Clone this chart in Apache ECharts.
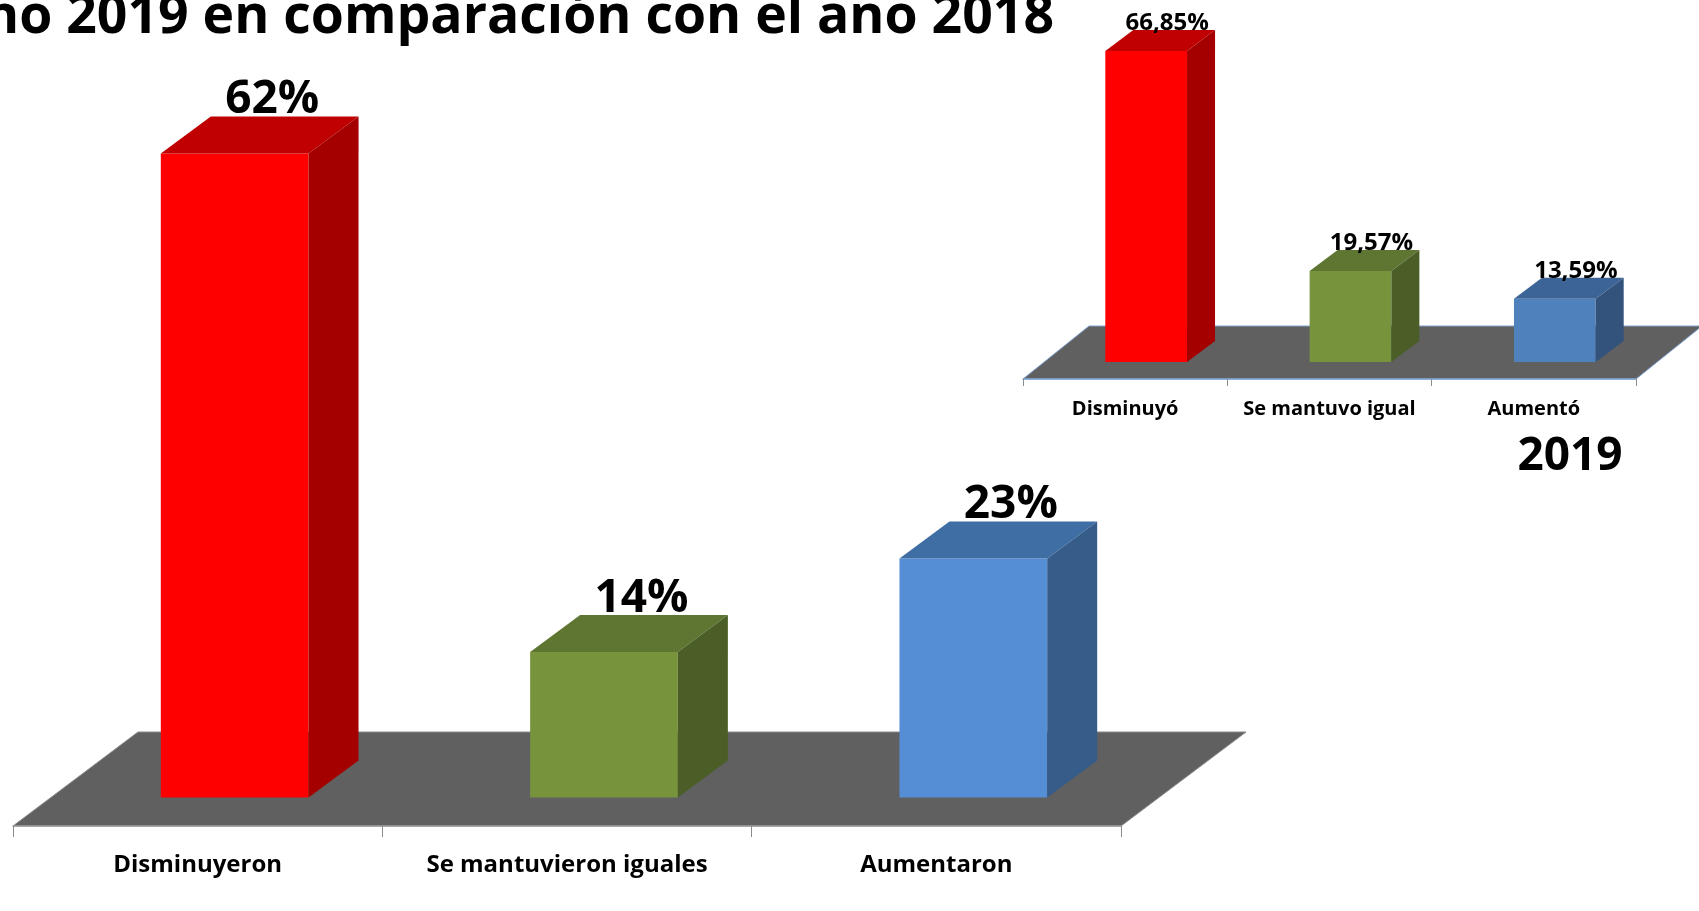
<!DOCTYPE html>
<html>
<head>
<meta charset="utf-8">
<title>Comparación 2019 / 2018</title>
<script src="https://cdn.jsdelivr.net/npm/echarts@6/dist/echarts.min.js"></script>
<style>
  html, body { margin: 0; padding: 0; background: #fff; }
  #chart { width: 1699px; height: 911px; }
</style>
</head>
<body>
<div id="chart"></div>
<script>
// datos
var categoriasComp = ['Disminuyeron', 'Se mantuvieron iguales', 'Aumentaron'];
var valoresComp = [62, 14, 23];
var categorias2019 = ['Disminuyó', 'Se mantuvo igual', 'Aumentó'];
var valores2019 = [66.85, 19.57, 13.59];
var tituloTexto = 'año 2019 en comparación con el año 2018';
var anioTexto = '2019';

// colores de las caras (frente, arriba, lado)
var frenteComp = ['#ff0000', '#77933c', '#558ed5'];
var arribaComp = ['#c00000', '#5f7632', '#3f6ea4'];
var ladoComp = ['#a40000', '#4b5e28', '#365c8a'];
var frente2019 = ['#ff0000', '#77933c', '#4f81bd'];
var arriba2019 = ['#c00000', '#5f7632', '#3d6497'];
var lado2019 = ['#a40000', '#4b5e28', '#33537d'];

var FONT = '"Open Sans", "Noto Sans", sans-serif';

function pctComp(v) { return Math.round(v) + '%'; }
function pct2019(v) { return v.toFixed(2).replace('.', ',') + '%'; }

function barras3d(depth, frente, arriba, lado, fontSize, labelDy, fmt) {
  return function (params, api) {
    var i = api.value(0);
    var v = api.value(1);
    var top = api.coord([i, v]);
    var base = api.coord([i, 0]);
    var w = api.size([1, 0])[0] * 0.4;
    var x0 = top[0] - w / 2, x1 = top[0] + w / 2;
    var yt = top[1], yb = base[1];
    var dx = depth[0], dy = depth[1];
    var backY = yt + dy;
    return {
      type: 'group',
      children: [
        { type: 'rect', shape: { x: x0, y: yt, width: w, height: yb - yt },
          style: { fill: frente[i] } },
        { type: 'polygon', shape: { points: [[x0, yt], [x0 + dx, backY], [x1 + dx, backY], [x1, yt]] },
          style: { fill: arriba[i] } },
        { type: 'polygon', shape: { points: [[x1, yt], [x1 + dx, backY], [x1 + dx, yb + dy], [x1, yb]] },
          style: { fill: lado[i] } },
        { type: 'text', x: top[0] + dx * 0.75, y: backY + labelDy - 0.357 * fontSize,
          style: { text: fmt(v), font: 'bold ' + fontSize + 'px ' + FONT, fill: '#000',
            align: 'center', verticalAlign: 'middle', textAlign: 'center', textVerticalAlign: 'middle' } }
      ]
    };
  };
}

function piso(depth, borde) {
  return function (params, api) {
    var cs = params.coordSys;
    var yf = cs.y + cs.height;
    return {
      type: 'polygon',
      shape: { points: [[cs.x, yf], [cs.x + cs.width, yf],
        [cs.x + cs.width + depth[0], yf + depth[1]], [cs.x + depth[0], yf + depth[1]]] },
      style: { fill: '#606060', stroke: borde, lineWidth: 1 }
    };
  };
}

function ejeX(grid, cats, fontSize, margin, tick, color) {
  return {
    gridIndex: grid, type: 'category', data: cats, z: 5,
    axisLine: { show: true, lineStyle: { color: color, width: 1.5 } },
    axisTick: { show: true, length: tick, lineStyle: { color: '#8c8c8c' } },
    axisLabel: { interval: 0, margin: margin, color: '#000', fontWeight: 'bold',
      fontFamily: FONT, fontSize: fontSize },
    splitLine: { show: false }
  };
}

var chart = echarts.init(document.getElementById('chart'));

var option = {
  animation: false,
  backgroundColor: '#fff',
  graphic: [
    { type: 'text', x: 1054, y: 18, scaleX: 1.01,
      style: { text: tituloTexto, font: 'bold 53px ' + FONT, fill: '#000',
        align: 'right', verticalAlign: 'middle', textAlign: 'right', textVerticalAlign: 'middle' } },
    { type: 'text', x: 1570, y: 457,
      style: { text: anioTexto, font: 'bold 46px ' + FONT, fill: '#000',
        align: 'center', verticalAlign: 'middle', textAlign: 'center', textVerticalAlign: 'middle' } }
  ],
  grid: [
    { left: 50, top: 18.5, width: 1108, height: 779 },
    { left: 13, top: 726, width: 1108, height: 100 },
    { left: 1044, top: 13, width: 613, height: 349 },
    { left: 1023, top: 279, width: 613, height: 100 }
  ],
  xAxis: [
    { gridIndex: 0, type: 'category', data: categoriasComp, show: false },
    ejeX(1, categoriasComp, 24, 27, 11, '#9a9a9a'),
    { gridIndex: 2, type: 'category', data: categorias2019, show: false },
    ejeX(3, categorias2019, 20, 20, 7, '#7fa2cf')
  ],
  yAxis: [
    { gridIndex: 0, type: 'value', min: 0, max: 75, show: false },
    { gridIndex: 1, type: 'value', min: 0, max: 1, show: false },
    { gridIndex: 2, type: 'value', min: 0, max: 75, show: false },
    { gridIndex: 3, type: 'value', min: 0, max: 1, show: false }
  ],
  series: [
    { type: 'custom', xAxisIndex: 1, yAxisIndex: 1, z: 1, silent: true,
      data: [[0, 0]], renderItem: piso([125, -94], '#8a8a8a') },
    { type: 'custom', xAxisIndex: 3, yAxisIndex: 3, z: 1, silent: true,
      data: [[0, 0]], renderItem: piso([66, -53], '#7fa2cf') },
    { type: 'custom', xAxisIndex: 0, yAxisIndex: 0, z: 3,
      data: valoresComp.map(function (v, i) { return [i, v]; }),
      encode: { x: 0, y: 1 },
      renderItem: barras3d([50, -37], frenteComp, arribaComp, ladoComp, 46, 0, pctComp) },
    { type: 'custom', xAxisIndex: 2, yAxisIndex: 2, z: 3,
      data: valores2019.map(function (v, i) { return [i, v]; }),
      encode: { x: 0, y: 1 },
      renderItem: barras3d([28, -21], frente2019, arriba2019, lado2019, 24, 2, pct2019) }
  ]
};

chart.setOption(option);
</script>
</body>
</html>
